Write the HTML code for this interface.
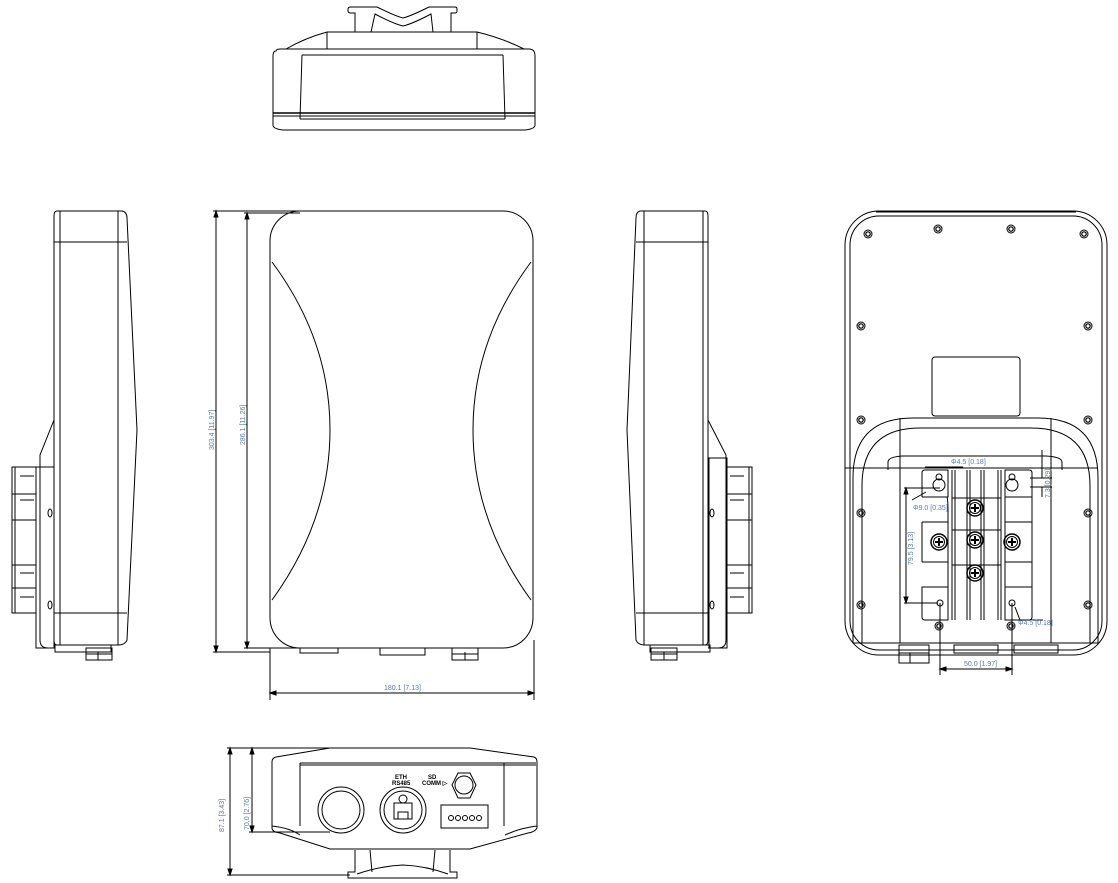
<!DOCTYPE html>
<html><head><meta charset="utf-8"><style>
html,body{margin:0;padding:0;background:#fff}
svg{display:block}
text{font-family:"Liberation Sans",sans-serif;font-size:7px;fill:#5a7aa8;stroke:none}
</style></head><body>
<svg width="1118" height="883" viewBox="0 0 1118 883" xmlns="http://www.w3.org/2000/svg" fill="none" stroke="#000" stroke-width="1">
<defs>
<g id="scr"><circle r="4"/><circle r="2.2" stroke-width="1.2"/></g>
<g id="phil"><circle r="8" stroke-width="1.5"/><circle r="5.5"/><path d="M-4 0H4M0 -4V4" stroke-width="2"/></g>
</defs>

<!-- TOP VIEW -->
<path d="M348 9 Q348 7 351 7 H377 Q395 16 403 18 Q411 16 429 7 H455 Q457 7 457 9 V11 Q457 13 455 13 H451 V32 H433 L431 14 Q412 24 403 26 Q394 24 375 14 L371 32 H355 V13 H351 Q348 13 348 11Z"/>
<path d="M327 32 H477 Q502 38 524 49 H286 Q305 38 327 32Z"/>
<line x1="327" y1="32" x2="327" y2="49"/><line x1="477" y1="32" x2="477" y2="49"/>
<path d="M276 51 Q276 49 281 49 H529 Q535 49 535 56 V125 Q535 129 525 130 H283 Q273 129 273 125 V56 Q273 51 276 51Z"/>
<line x1="273" y1="113" x2="535" y2="113" stroke-width="1.6"/><line x1="273" y1="116" x2="535" y2="116"/>
<line x1="302" y1="55" x2="300" y2="119"/><line x1="503" y1="55" x2="505" y2="119"/>
<line x1="302" y1="55" x2="503" y2="55"/>
<line x1="300" y1="119" x2="505" y2="119"/>

<!-- LEFT SIDE VIEW -->
<path d="M57 211 H122 Q127 212 127 218 L137 430 L127 640 Q125 645 118 645 H57 Q54 645 54 640 V216 Q54 211 57 211Z"/>
<line x1="60" y1="211" x2="60" y2="645"/>
<line x1="118" y1="211" x2="118" y2="645"/>
<line x1="54" y1="242" x2="127" y2="242"/>
<line x1="54" y1="613" x2="127" y2="613"/>
<path d="M54 420 L40 455 V640 Q40 648 48 648 H54"/>
<rect x="36" y="467" width="18" height="181" />
<rect x="12" y="467" width="24" height="146"/>
<path d="M15 467V613M12 494H36M12 520H36M12 565H36M12 588H36M20 476h14M20 500h14M20 573h14M20 597h14"/>
<ellipse cx="50" cy="513" rx="2" ry="4"/><ellipse cx="50" cy="605" rx="2" ry="4"/>
<rect x="55" y="645" width="56" height="7"/>
<rect x="86" y="648" width="26" height="12"/><path d="M86 654H112M98 652V660"/>

<!-- DIMENSIONS FRONT -->
<path d="M216 211 V652 M247 213 V648 M213 211 H300 M213 652 H270 M244 213 H300 M244 648 H300"/>
<path d="M216 211 l-2 6 h4z M216 652 l-2 -6 h4z M247 213 l-2 6 h4z M247 648 l-2 -6 h4z" fill="#000"/>
<text transform="translate(214,450) rotate(-90)">303.4 [11.97]</text>
<text transform="translate(245,445) rotate(-90)">286.1 [11.26]</text>
<path d="M270 648 V700 M534 640 V700 M270 693 H534"/>
<path d="M270 693 l6 -2 v4z M534 693 l-6 -2 v4z" fill="#000"/>
<text x="384" y="690">180.1 [7.13]</text>

<!-- FRONT VIEW -->
<rect x="270" y="211" width="263" height="437" rx="30"/>
<path d="M272 262 Q330 340 330 430 Q330 520 272 600"/>
<path d="M531 262 Q473 340 473 430 Q473 520 531 600"/>
<path d="M300 648 V653 H338 V648 M380 648 V655 H425 V648"/>
<rect x="452" y="648" width="26" height="12"/><path d="M452 654H478M465 652V660"/>

<!-- RIGHT SIDE VIEW -->
<path d="M705 211 H640 Q636 212 636 218 L627 430 L636 640 Q638 645 645 645 H705 Q708 645 708 640 V216 Q708 211 705 211Z"/>
<line x1="644" y1="211" x2="644" y2="645"/>
<line x1="703" y1="211" x2="703" y2="645"/>
<line x1="636" y1="242" x2="708" y2="242"/>
<line x1="636" y1="613" x2="708" y2="613"/>
<path d="M708 420 L726 455 V640 Q726 648 718 648 H708"/>
<rect x="709" y="458" width="18" height="190"/>
<rect x="727" y="467" width="25" height="146"/>
<path d="M749 467V613M727 494H752M727 520H752M727 565H752M727 588H752M730 476h14M730 500h14M730 573h14M730 597h14"/>
<ellipse cx="712" cy="513" rx="2" ry="4"/><ellipse cx="712" cy="605" rx="2" ry="4"/>
<rect x="650" y="645" width="60" height="7"/>
<rect x="651" y="648" width="26" height="12"/><path d="M651 654H677M664 652V660"/>

<!-- BACK VIEW -->
<rect x="845" y="211" width="262" height="444" rx="34"/>
<rect x="850" y="216" width="252" height="434" rx="29"/>
<line x1="876" y1="212" x2="1076" y2="212"/><line x1="876" y1="216" x2="1076" y2="216"/>
<use href="#scr" x="868" y="234"/><use href="#scr" x="938" y="229"/><use href="#scr" x="1011" y="229"/><use href="#scr" x="1084" y="234"/>
<use href="#scr" x="861" y="326"/><use href="#scr" x="1088" y="326"/>
<use href="#scr" x="861" y="420"/><use href="#scr" x="1088" y="420"/>
<use href="#scr" x="861" y="513"/><use href="#scr" x="1088" y="513"/>
<use href="#scr" x="861" y="605"/><use href="#scr" x="1088" y="605"/>
<use href="#scr" x="939" y="626"/><use href="#scr" x="1011" y="626"/>
<rect x="932" y="357" width="88" height="59" rx="3"/>
<path d="M853 643 V478 Q853 418 913 418 H1038 Q1098 418 1098 478 V643"/>
<path d="M862 643 V486 Q862 428 920 428 H1031 Q1090 428 1090 486 V643"/>
<line x1="900" y1="418" x2="900" y2="643"/><line x1="1051" y1="418" x2="1051" y2="643"/>
<path d="M888 470 V462 Q888 457 902 456 H1046 Q1062 457 1062 462 V470"/>
<line x1="853" y1="643" x2="1098" y2="643"/>
<line x1="845" y1="468" x2="1098" y2="468"/>
<!-- plate -->
<path d="M925 470 H948 V497 H947 Q948 500 948 510 V620 H925 Q922 620 922 617 V587 H948 M922 562 V522 M922 497 V473 Q922 470 925 470"/>
<path d="M922 497 H948 M922 522 H948 M922 562 H948 M922 587 H948"/>
<path d="M1029 470 H1005 V620 H1029 Q1032 620 1032 617 V473 Q1032 470 1029 470Z"/>
<path d="M1032 522 H1005 M1032 562 H1005 M1032 497 H1005 M1032 587 H1005"/>
<path d="M952 470 V620 M955 470 V620 M998 470 V620 M1001 470 V620 M967 470 V620 M984 470 V620 M970 470 V620 M981 470 V620"/>
<path d="M952 498 H1001 M952 530 H1001 M952 565 H1001"/>
<circle cx="939" cy="485" r="6"/><circle cx="939" cy="477" r="3"/>
<circle cx="1012" cy="485" r="6"/><circle cx="1012" cy="477" r="3"/>
<use href="#phil" x="975" y="508"/><use href="#phil" x="975" y="540"/><use href="#phil" x="975" y="573"/>
<use href="#phil" x="939" y="542"/><use href="#phil" x="1012" y="542"/>
<circle cx="940" cy="603" r="3"/><circle cx="1012" cy="603" r="3"/>
<rect x="899" y="645" width="30" height="18"/><path d="M899 653H929M910 653V663"/>
<rect x="954" y="645" width="44" height="8"/><rect x="1014" y="645" width="44" height="8"/>
<!-- back dims -->
<path d="M906 488 V603 M904 488 H940 M904 603 H938"/>
<path d="M906 488 l-2 6 h4z M906 603 l-2 -6 h4z" fill="#000"/>
<text transform="translate(913,565) rotate(-90)">79.5 [3.13]</text>
<path d="M925 467 H963 M926 492 L912 500"/>
<text x="951" y="464">Φ4.5 [0.18]</text>
<text x="913" y="510">Φ9.0 [0.35]</text>
<path d="M1042 450 V478 M1030 478 H1052 M1030 487 H1052 M1042 487 V497"/>
<text transform="translate(1050,498) rotate(-90)">7.3 [0.29]</text>
<path d="M1015 607 L1020 620 H1043"/>
<text x="1018" y="625">Φ4.5 [0.18]</text>
<path d="M940 603 V675 M1012 603 V675 M940 669 H1012"/>
<path d="M940 669 l6 -2 v4z M1012 669 l-6 -2 v4z" fill="#000"/>
<text x="964" y="666">50.0 [1.97]</text>

<!-- BOTTOM VIEW -->
<path d="M330 748 H470 L534 757 Q537 758 537 762 V828 Q535 832 528 833 L470 849 H330 L280 833 Q272 832 272 828 V762 Q272 758 276 757 Z"/>
<path d="M300 763 H536 M300 765 H536 M300 763 V826 M504 763 V826"/>
<path d="M272 826 Q290 828 300 835 M537 826 Q520 828 505 835"/>
<circle cx="341" cy="810" r="23"/><circle cx="341" cy="810" r="19"/>
<circle cx="403" cy="810" r="23"/><circle cx="403" cy="810" r="19"/>
<rect x="394" y="803" width="18" height="16"/><rect x="398" y="812" width="10" height="7"/>
<circle cx="403" cy="799" r="4"/>
<path d="M458 773 H470 L476 785 L470 798 H458 L452 785Z"/><circle cx="464" cy="785" r="9"/>
<rect x="441" y="805" width="47" height="23"/>
<circle cx="451" cy="818" r="2.5"/><circle cx="458" cy="818" r="2.5"/><circle cx="465" cy="818" r="2.5"/><circle cx="472" cy="818" r="2.5"/><circle cx="479" cy="818" r="2.5"/>
<text x="395" y="779" style="font-size:6px;fill:#000;font-weight:bold">ETH</text>
<text x="392" y="785" style="font-size:6px;fill:#000;font-weight:bold">RS485</text>
<text x="428" y="779" style="font-size:6px;fill:#000;font-weight:bold">SD</text>
<text x="422" y="785" style="font-size:6px;fill:#000;font-weight:bold">COMM ▷</text>
<path d="M355 850 V872 H348 V878 H457 V872 H450 V850 M357 874 Q380 866 403 865 Q426 866 448 874 M370 850 L372 872 M435 850 L433 872"/>
<path d="M230 748 V875 M252 748 V832 M227 748 H330 M227 875 H350 M249 832 H330"/>
<path d="M230 748 l-2 6 h4z M230 875 l-2 -6 h4z M252 748 l-2 6 h4z M252 832 l-2 -6 h4z" fill="#000"/>
<text transform="translate(224,832) rotate(-90)">87.1 [3.43]</text>
<text transform="translate(249,830) rotate(-90)">70.0 [2.76]</text>
</svg>
</body></html>
